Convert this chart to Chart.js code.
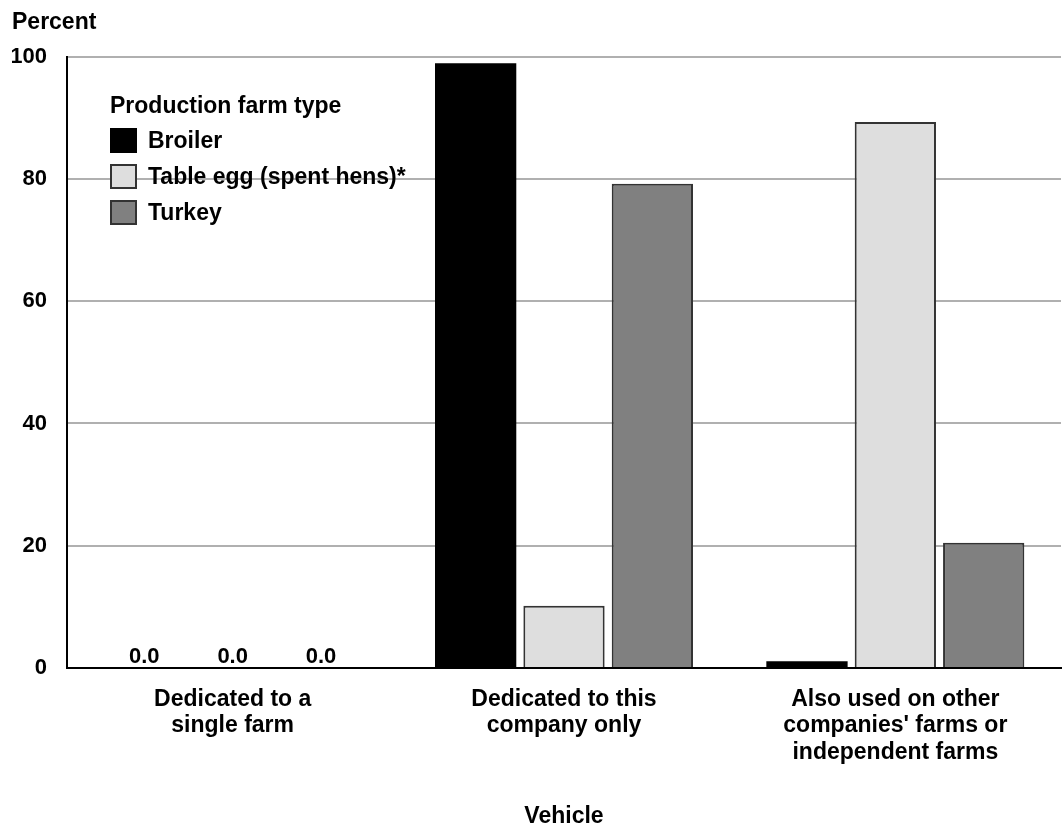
<!DOCTYPE html>
<html>
<head>
<meta charset="utf-8">
<script src="https://cdn.jsdelivr.net/npm/chart.js@4/dist/chart.umd.min.js"></script>
<style>
  body { margin: 0; background: #fff; }
  #wrap { position: relative; width: 1064px; height: 830px; }
  #legend { position: absolute; left: 110px; top: 91px; font-family: "Liberation Sans", Arial, sans-serif; font-weight: bold; font-size: 23px; color: #000; }
  #legend .t { height: 28px; line-height: 28px; margin-bottom: 3px; }
  #legend .row { display: flex; align-items: center; height: 36px; }
  #legend .box { width: 27px; height: 25px; margin-right: 11px; box-sizing: border-box; }
</style>
</head>
<body>
<div id="wrap">
  <canvas id="myChart" width="1064" height="830"></canvas>
  <div id="legend"></div>
</div>
<script>
// 資料
const categories = [
  ['Dedicated to a', 'single farm'],
  ['Dedicated to this', 'company only'],
  ['Also used on other', "companies' farms or", 'independent farms']
];
const seriesNames = ['Broiler', 'Table egg (spent hens)*', 'Turkey'];
const broiler = [0, 98.9, 1.1];
const tableEgg = [0, 10.2, 89.3];
const turkey = [0, 79.2, 20.5];
const yTicks = [0, 20, 40, 60, 80, 100];

const fillColors = ['#000000', '#dedede', '#808080'];
const edgeColors = ['#000000', '#333333', '#333333'];
const font = "'Liberation Sans', Arial, sans-serif";

// legend (html)
const legendBox = document.getElementById('legend');
let html = '<div class="t">Production farm type</div>';
seriesNames.forEach(function(name, i){
    html += '<div class="row"><div class="box" style="background:' + fillColors[i] +
        ';border:2px solid ' + edgeColors[i] + '"></div>' + name + '</div>';
});
legendBox.innerHTML = html;

// 0.0 labels for zero values
const zeroLabels = {
    id: 'zeroLabels',
    afterDatasetsDraw(chart) {
        const ctx = chart.ctx;
        ctx.save();
        ctx.font = 'bold 22px ' + font;
        ctx.fillStyle = '#000';
        ctx.textAlign = 'center';
        ctx.textBaseline = 'alphabetic';
        chart.data.datasets.forEach(function(ds, di){
            const meta = chart.getDatasetMeta(di);
            ds.data.forEach(function(v, i){
                if (v === 0) {
                    const bar = meta.data[i];
                    ctx.fillText(v.toFixed(1), bar.x, bar.y - 5);
                }
            });
        });
        ctx.restore();
    }
};

const canvas = document.getElementById('myChart');
const myChart = new Chart(canvas, {
    type: 'bar',
    data: {
        labels: categories,
        datasets: [broiler, tableEgg, turkey].map(function(vals, i){
            return {
                label: seriesNames[i],
                data: vals,
                backgroundColor: fillColors[i],
                borderColor: edgeColors[i],
                borderWidth: i === 0 ? 0 : 2,
                categoryPercentage: 0.8,
                barPercentage: 0.92
            };
        })
    },
    options: {
        responsive: false,
        animation: false,
        layout: { padding: { left: 12, right: 3, top: 0, bottom: 0 } },
        plugins: {
            legend: { display: false },
            tooltip: { enabled: false },
            title: {
                display: true,
                text: 'Percent',
                align: 'start',
                color: '#000',
                font: { family: font, size: 23, weight: 'bold' },
                padding: { top: 9, bottom: 20 }
            }
        },
        scales: {
            x: {
                grid: { display: false },
                border: { color: '#000', width: 2 },
                afterFit: function(scale){
                    scale.paddingLeft = 0;
                    scale.paddingRight = 0;
                },
                ticks: {
                    color: '#000',
                    font: { family: font, size: 23, weight: 'bold', lineHeight: 1.15 },
                    padding: 10,
                    maxRotation: 0
                },
                title: {
                    display: true,
                    text: 'Vehicle',
                    color: '#000',
                    font: { family: font, size: 23, weight: 'bold' },
                    padding: { top: 27, bottom: 0 }
                }
            },
            y: {
                min: 0,
                max: 100,
                afterBuildTicks: function(axis){
                    axis.ticks = yTicks.map(function(v){ return { value: v }; });
                },
                afterFit: function(scale){
                    scale.width = 55;
                },
                grid: { color: '#b0b0b0', lineWidth: 2, drawTicks: false },
                border: { color: '#000', width: 2 },
                ticks: {
                    color: '#000',
                    font: { family: font, size: 22, weight: 'bold' },
                    padding: 20
                }
            }
        }
    },
    plugins: [zeroLabels]
});
</script>
</body>
</html>
